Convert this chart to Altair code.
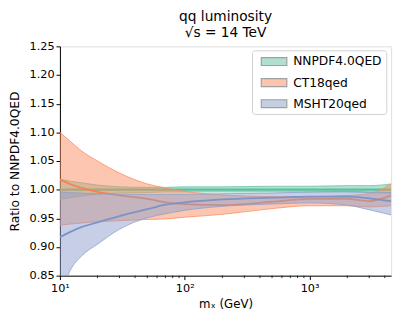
import altair as alt
import pandas as pd

# mass points (GeV)
mass = [10, 12, 15, 20, 30, 50, 70, 100, 200, 500, 1000, 2000, 3000, 4500]

nnpdf_c = [1.000] * 14
nnpdf_up = [1.018, 1.015, 1.012, 1.008, 1.005, 1.004, 1.004, 1.005, 1.005, 1.006, 1.006, 1.007, 1.007, 1.010]
nnpdf_lo = [0.983, 0.986, 0.989, 0.992, 0.994, 0.995, 0.996, 0.996, 0.996, 0.996, 0.996, 0.996, 0.995, 0.994]

ct_c = [1.018, 1.010, 1.003, 0.996, 0.990, 0.984, 0.978, 0.975, 0.973, 0.979, 0.984, 0.984, 0.980, 0.990]
ct_up = [1.100, 1.085, 1.067, 1.050, 1.029, 1.010, 1.003, 0.997, 0.991, 0.988, 0.988, 0.990, 0.993, 1.010]
ct_lo = [0.938, 0.940, 0.942, 0.944, 0.946, 0.948, 0.949, 0.952, 0.957, 0.967, 0.972, 0.972, 0.970, 0.972]

msht_c = [0.917, 0.926, 0.935, 0.943, 0.954, 0.966, 0.974, 0.978, 0.983, 0.986, 0.988, 0.988, 0.985, 0.980]
msht_up = [0.996, 0.995, 0.994, 0.993, 0.992, 0.992, 0.992, 0.992, 0.993, 0.994, 0.996, 0.997, 0.996, 0.995]
msht_lo = [0.815, 0.858, 0.885, 0.905, 0.931, 0.951, 0.958, 0.964, 0.971, 0.975, 0.977, 0.973, 0.965, 0.956]

series = ["NNPDF4.0QED", "CT18qed", "MSHT20qed"]
colors = ["#66c2a5", "#fc8d62", "#8da0cb"]
line_colors = ["#5bbf9f", "#fa7f52", "#7d93c6"]
centrals = [nnpdf_c, ct_c, msht_c]
uppers = [nnpdf_up, ct_up, msht_up]
lowers = [nnpdf_lo, ct_lo, msht_lo]

y_ticks = [0.85, 0.90, 0.95, 1.00, 1.05, 1.10, 1.15, 1.20, 1.25]
x_major = [10, 100, 1000]
x_minor = [20, 30, 40, 50, 60, 70, 80, 90, 200, 300, 400, 500, 600, 700, 800, 900,
           2000, 3000, 4000]

W, H = 338, 234

xscale = alt.Scale(type="log", domain=[10, 4500], nice=False)
yscale = alt.Scale(domain=[0.85, 1.25], nice=False)
fill_scale = alt.Scale(domain=series, range=colors)

xaxis = alt.Axis(values=x_major, labelExpr="datum.value == 10 ? '10¹' : datum.value == 100 ? '10²' : '10³'",
                 title="mₓ (GeV)", grid=False, tickSize=4, labelFontSize=11.5, titleFontSize=12,
                 titleFontWeight="normal", labelPadding=3, titlePadding=5, domainColor="#000",
                 tickColor="#000", labelColor="#000", titleColor="#000", labelFlush=False)
yaxis = alt.Axis(values=y_ticks, format=".2f", title="Ratio to NNPDF4.0QED", grid=False, tickSize=4,
                 labelFontSize=11.5, titleFontSize=12.5, titleFontWeight="normal", labelPadding=2,
                 titlePadding=8, domainColor="#000", tickColor="#000", labelColor="#000",
                 titleColor="#000")

X = alt.X("m:Q", scale=xscale, axis=xaxis)
legend = alt.Legend(title=None, orient="none", legendX=196, legendY=4,
                    padding=4, fillColor="white", strokeColor="#d0d0d0",
                    cornerRadius=3, rowPadding=7.5, labelFontSize=12.5,
                    labelColor="#000", labelOffset=12, symbolOffset=11,
                    labelExpr="datum.label + ' '",
                    symbolType="M-2,-0.62H2V0.62H-2Z", symbolSize=169,
                    symbolOpacity=0.5, symbolStrokeColor="#444",
                    symbolStrokeWidth=1.2)

layers = []
for i, (name, col) in enumerate(zip(series, colors)):
    df = pd.DataFrame({"m": mass, "c": centrals[i], "up": uppers[i], "lo": lowers[i], "pdf": name})
    base = alt.Chart(df)
    band = base.mark_area(opacity=0.5, interpolate="monotone", clip=True).encode(
        x=X,
        y=alt.Y("lo:Q", scale=yscale, axis=yaxis),
        y2="up:Q",
        fill=alt.Fill("pdf:N", scale=fill_scale, legend=legend),
    )
    up_line = base.mark_line(color=col, strokeWidth=1, opacity=0.8, interpolate="monotone", clip=True).encode(
        x=X, y=alt.Y("up:Q", scale=yscale, axis=yaxis))
    lo_line = base.mark_line(color=col, strokeWidth=1, opacity=0.8, interpolate="monotone", clip=True).encode(
        x=X, y=alt.Y("lo:Q", scale=yscale, axis=yaxis))
    c_line = base.mark_line(color=line_colors[i], strokeWidth=2.2 if i == 0 else 1.8,
                            interpolate="monotone", clip=True).encode(
        x=X, y=alt.Y("c:Q", scale=yscale, axis=yaxis))
    layers += [band, up_line, lo_line, c_line]

minor_df = pd.DataFrame({"m": x_minor})
minor = alt.Chart(minor_df).mark_rule(color="#000", strokeWidth=0.8, clip=False).encode(
    x=X,
    y=alt.value(H),
    y2=alt.value(H + 2.5),
)
layers.append(minor)

chart = alt.layer(*layers).properties(
    width=W, height=H,
    title=alt.Title(text=["qq luminosity", "√s = 14 TeV"], fontSize=14, fontWeight="normal",
                    anchor="middle", offset=1, lineHeight=16, color="#000"),
    autosize=alt.AutoSizeParams(type="none"),
    padding={"left": 53, "top": 36, "right": 8, "bottom": 38},
).configure_view(stroke=None).configure(font="DejaVu Sans")

chart.save("out.html", embed_options={"renderer": "svg", "actions": False})
